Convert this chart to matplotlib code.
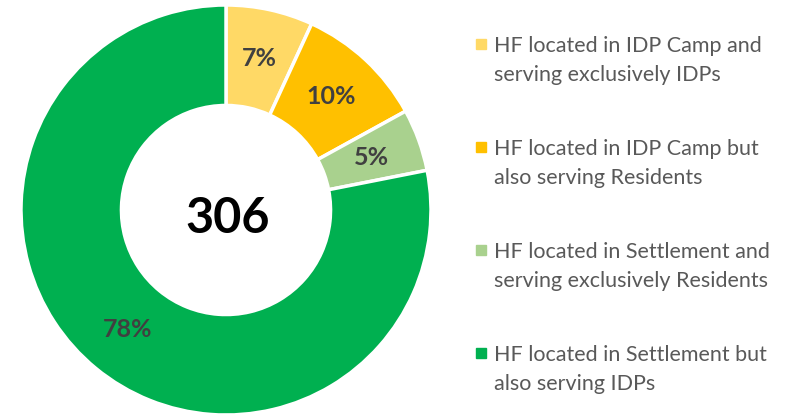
import matplotlib.pyplot as plt
from matplotlib.lines import Line2D

plt.rcParams['font.family'] = ['Lato', 'DejaVu Sans']

labels = ['HF located in IDP Camp and\nserving exclusively IDPs',
          'HF located in IDP Camp but\nalso serving Residents',
          'HF located in Settlement and\nserving exclusively Residents',
          'HF located in Settlement but\nalso serving IDPs']
counts = [21, 31, 15, 239]
total = 306
colors = ['#FFD966', '#FFC000', '#A9D18E', '#00B050']

fig = plt.figure(figsize=(7.97, 4.17), dpi=100)
ax = fig.add_axes([21 / 797, 2 / 417, 410 / 797, 410 / 417])

wedges, texts, autotexts = ax.pie(
    counts, colors=colors, startangle=90, counterclock=False,
    radius=1, pctdistance=0.755, autopct='%1.0f%%',
    wedgeprops=dict(width=0.49, edgecolor='white', linewidth=2.5),
    textprops=dict(color='#404040', fontsize=18, fontweight='bold'))
ax.set_xlim(-1, 1)
ax.set_ylim(-1, 1)
ax.set_aspect('equal')

ax.text(0.01, -0.112, str(total), ha='center', va='baseline', fontsize=35,
        fontweight='bold', color='black')

# legend drawn by hand so the marker sits on the first line
step = 103 / 417
for i, (lab, c) in enumerate(zip(labels, colors)):
    ym = 1 - 44 / 417 - i * step
    fig.add_artist(Line2D([481 / 797], [ym], marker='s', markersize=6.5,
                          color=c, linestyle='none', transform=fig.transFigure))
    for j, line in enumerate(lab.split('\n')):
        yb = 1 - (52 + 29 * j) / 417 - i * step
        fig.text(494 / 797, yb, line, ha='left', va='baseline', fontsize=15.5,
                 color='#595959')

fig.savefig('out.png', dpi=100)
